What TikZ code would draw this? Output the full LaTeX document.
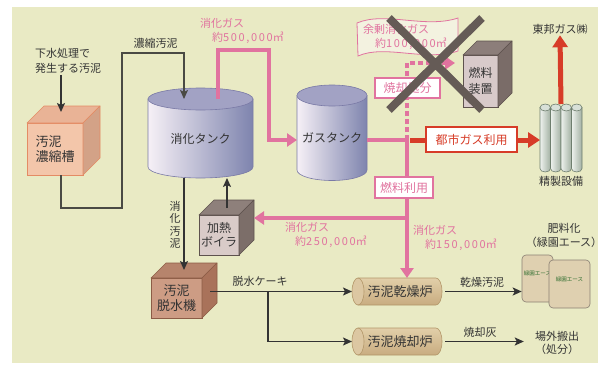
\documentclass[tikz,border=0pt]{standalone}
\usepackage{fontspec}
\setmainfont{Noto Sans CJK JP}
\usetikzlibrary{
  arrows.meta, % for the Stealth and Triangle arrow tips
  positioning, % for labels set next to other nodes
}
\pgfdeclarelayer{background}
\pgfsetlayers{background,main}

\definecolor{paper}{HTML}{E9EAC4}
\definecolor{ink}{HTML}{333333}
\definecolor{pipegrey}{HTML}{4A4A44}
\definecolor{pinkgas}{HTML}{E1739F}
\definecolor{citygas}{HTML}{D73C28}
\definecolor{xmarkgrey}{HTML}{655B56}
% unit colours: front, top, side, edge
\definecolor{thfront}{HTML}{F3C6AA}\definecolor{thtop}{HTML}{E9B396}
\definecolor{thside}{HTML}{D3A287}\definecolor{thedge}{HTML}{E48B64}
\definecolor{fufront}{HTML}{D8CACA}\definecolor{futop}{HTML}{8C7E7A}
\definecolor{fuside}{HTML}{7A6C68}\definecolor{fuedge}{HTML}{5E524E}
\definecolor{bofront}{HTML}{D9CBC8}\definecolor{botop}{HTML}{8E807B}
\definecolor{boside}{HTML}{7C6E69}
\definecolor{dwfront}{HTML}{CD9C84}\definecolor{dwtop}{HTML}{B6846C}
\definecolor{dwside}{HTML}{A9725A}\definecolor{dwedge}{HTML}{8C5C46}
% tanks, drums, columns, bags
\definecolor{tankleft}{HTML}{F6F0F6}\definecolor{tankmid}{HTML}{C9C1D9}
\definecolor{tankright}{HTML}{7E84AE}\definecolor{tanktop}{HTML}{A2A2C4}
\definecolor{tankedge}{HTML}{7A7AA6}
\definecolor{drumtop}{HTML}{E2CFA9}\definecolor{drummid}{HTML}{FAF2E2}
\definecolor{drumbot}{HTML}{C8AC80}\definecolor{drumcap}{HTML}{DCC7A2}
\definecolor{drumedge}{HTML}{B29668}
\definecolor{colleft}{HTML}{EEF2EE}\definecolor{colright}{HTML}{A2B0A2}
\definecolor{coltop}{HTML}{D8E0D8}\definecolor{coledge}{HTML}{6E7E6E}
\definecolor{bagfill}{HTML}{DFD0B0}\definecolor{bagedge}{HTML}{8A8074}
\definecolor{baggreen}{HTML}{2F6E2F}
\definecolor{bannerfill}{HTML}{F3F2E0}

% top and side faces of a unit box: node, depth, top, side, edge
\newcommand{\unitfaces}[5]{%
  \filldraw[fill=#3,draw=#5,line width=0.6pt,line join=round]
    (#1.north west) -- ([xshift=#2,yshift=#2]#1.north west)
    -- ([xshift=#2,yshift=#2]#1.north east) -- (#1.north east) -- cycle;
  \filldraw[fill=#4,draw=#5,line width=0.6pt,line join=round]
    (#1.north east) -- ([xshift=#2,yshift=#2]#1.north east)
    -- ([xshift=#2,yshift=#2]#1.south east) -- (#1.south east) -- cycle;
}
% upright tank around a node: node, x radius, y radius
\newcommand{\tankbody}[3]{%
  \shadedraw[tankshade] (#1.north west) -- ([yshift=#3]#1.south west)
    arc[start angle=180,end angle=360,x radius=#2,y radius=#3]
    -- (#1.north east) -- cycle;
  \filldraw[fill=tanktop,draw=tankedge,line width=0.6pt]
    (#1.north) ellipse[x radius=#2,y radius=#3];
}
% lying drum, the cap sits on the west anchor
\newcommand{\drumbody}[1]{%
  \shadedraw[drumshade] (#1.north west) -- ([xshift=-6pt]#1.north east)
    arc[start angle=90,end angle=-90,x radius=6pt,y radius=13.5pt]
    -- (#1.south west) -- cycle;
  \filldraw[fill=drumcap,draw=drumedge,line width=0.6pt]
    (#1.west) ellipse[x radius=6pt,y radius=13.5pt];
}
\newcommand{\gasvol}[1]{約{\addfontfeature{LetterSpace=15}#1}㎥}

\tikzset{
  lbl/.style={ % plain labels on the flows
    text=ink, % dark grey text
    font=\fontsize{11}{14}\selectfont, % small label text
    inner sep=1pt, % keep labels tight
    align=center, % lines centred on each other
  },
  gaslbl/.style={ % amounts of digestion gas
    lbl, % inherit the label style
    text=pinkgas, % same pink as the gas lines
    align=left, % second line is indented
  },
  unit/.style={ % front face of a plant unit
    rectangle,draw,line width=0.6pt, % thin outline
    inner sep=0pt,outer sep=0pt, % faces meet the anchors exactly
    text=ink,font=\fontsize{12}{15}\selectfont,
    align=center,
  },
  tank/.style={ % round tank, body shaded on the background layer
    rectangle,inner sep=0pt,outer sep=0pt,
    text=ink,font=\fontsize{12}{14}\selectfont,
  },
  tankshade/.style={ % shading of the tank walls
    left color=tankleft,middle color=tankmid,right color=tankright,
    draw=tankedge,line width=0.6pt,
  },
  drum/.style={ % lying furnace drum
    rectangle,inner sep=0pt,outer sep=0pt,
    minimum width=84pt,minimum height=27pt,
    text=ink,font=\fontsize{13}{15}\selectfont,
  },
  drumshade/.style={ % shading of the drum
    top color=drumtop,middle color=drummid,bottom color=drumbot,
    draw=drumedge,line width=0.6pt,
  },
  column/.style={ % one column of the refining plant
    left color=colleft,right color=colright,
    draw=coledge,line width=0.6pt,
  },
  bag/.style={ % fertiliser bag
    rectangle,rounded corners=4pt,
    fill=bagfill,draw=bagedge,line width=0.6pt,
    inner sep=0pt,text depth=10pt, % lettering sits high on the bag
    text=baggreen,font=\fontsize{5.5}{6}\selectfont,
  },
  tag/.style={ % boxed tag sitting on a gas line
    rectangle,fill=white,draw=pinkgas,line width=1.5pt,
    inner sep=0pt,text=pinkgas,font=\fontsize{12}{14}\selectfont,
  },
  flow/.style={ % sludge flows
    -{Stealth[length=9pt,width=8pt,inset=2pt]},
    draw=ink,line width=1.8pt,
  },
  pipe/.style={ % thin line for the thickened sludge
    flow,line width=1.1pt,draw=pipegrey,
  },
  gasline/.style={ % digestion gas
    draw=pinkgas,line width=4.5pt,
  },
  gasflow/.style={ % digestion gas ending in an arrow
    gasline,-{Triangle[length=10pt,width=13pt]},
  },
  cityflow/.style={ % gas sent on as city gas
    draw=citygas,line width=5pt,-{Triangle[length=12pt,width=15pt]},
  },
}

\begin{document}
\begin{tikzpicture}[x=1pt,y=-1pt]
	\useasboundingbox (0,0) rectangle (603,367);
	\begin{pgfonlayer}{background}
		\fill[paper] (12,7) rectangle (598,363);
	\end{pgfonlayer}

	% thickening
	\node[lbl,align=left,font=\fontsize{11}{15}\selectfont] (source) at (68,61) {下水処理で\\発生する汚泥};
	\node[unit,fill=thfront,draw=thedge,align=left,font=\fontsize{13}{15}\selectfont,
		minimum width=56pt,minimum height=52pt] (thicken) at (55,149) {汚泥\\濃縮槽};
	\unitfaces{thicken}{17pt}{thtop}{thside}{thedge}

	% tanks
	\node[tank,minimum width=105pt,minimum height=79pt] (digest) at (200.5,138.5) {消化タンク};
	\node[tank,minimum width=70pt,minimum height=85pt] (gastank) at (332,138) {ガスタンク};
	\begin{pgfonlayer}{background}
		\tankbody{digest}{52.5pt}{11pt}
		\tankbody{gastank}{35pt}{10.5pt}
	\end{pgfonlayer}

	% fuel unit
	\node[unit,fill=fufront,draw=fuedge,font=\fontsize{12}{16}\selectfont,
		minimum width=35pt,minimum height=52pt] (fuel) at (480.5,81) {燃料\\装置};
	\unitfaces{fuel}{14pt}{futop}{fuside}{fuedge}

	% refining columns
	\node[inner sep=0pt,outer sep=0pt,minimum width=42pt,minimum height=68pt] (refine) at (561,138) {};
	\foreach \i in {0,...,3}{
		\shadedraw[column] ([xshift=\i*10.5pt,yshift=-3.5pt]refine.north west)
			-- ([xshift=\i*10.5pt,yshift=3.5pt]refine.south west)
			arc[start angle=180,end angle=360,x radius=5.25pt,y radius=3.5pt]
			-- ([xshift=\i*10.5pt+10.5pt,yshift=-3.5pt]refine.north west) -- cycle;
		\filldraw[fill=coltop,draw=coledge,line width=0.6pt]
			([xshift=\i*10.5pt+5.25pt,yshift=-3.5pt]refine.north west) ellipse[x radius=5.25pt,y radius=3.5pt];
	}
	\node[lbl,below=3pt of refine] (refinename) {精製設備};
	\node[lbl] (toho) at (560,29) {東邦ガス㈱};

	% boiler and dewatering
	\node[unit,fill=bofront,draw=fuedge,font=\fontsize{12}{14}\selectfont,
		minimum width=40pt,minimum height=40pt] (boiler) at (219,235) {加熱\\ボイラ};
	\unitfaces{boiler}{15pt}{botop}{boside}{fuedge}
	\node[unit,fill=dwfront,draw=dwedge,font=\fontsize{13}{15}\selectfont,
		minimum width=51pt,minimum height=40pt] (dewater) at (176.5,298) {汚泥\\脱水機};
	\unitfaces{dewater}{15pt}{dwtop}{dwside}{dwedge}

	% furnaces
	\node[drum] (dryer) at (400,291.5) {汚泥乾燥炉};
	\node[drum] (burner) at (400,341.5) {汚泥焼却炉};
	\begin{pgfonlayer}{background}
		\drumbody{dryer}
		\drumbody{burner}
	\end{pgfonlayer}

	% products
	\node[bag,minimum width=31pt,minimum height=47pt] (bag1) at (537.5,278.5) {緑園エース};
	\node[bag,minimum width=41pt,minimum height=48pt] (bag2) at (569.5,284) {緑園エース};
	\node[lbl] (fertname) at (564,235) {肥料化\\（緑園エース）};
	\node[lbl,font=\fontsize{11}{13}\selectfont] (disposal) at (557,343) {場外搬出\\（処分）};

	\coordinate (jct) at (407,140);
	\coordinate (fork) at (407,218);
	\coordinate (split) at (268,291.5);

	% sludge
	\draw[flow] ([xshift=-7pt]source.south) -- ([xshift=6pt,yshift=11pt]thicken.north);
	\draw[pipe] ([xshift=6pt]thicken.south) -- ++(0,33) -| ++(61,-155) -| ([xshift=-16.5pt]digest.north);
	\draw[flow] ([xshift=-16.5pt]digest.south) -- ([xshift=7.5pt,yshift=8pt]dewater.north);
	\draw[flow] ([xshift=8pt,yshift=7pt]boiler.north) -- ([xshift=26.5pt]digest.south);
	\draw[flow] ([xshift=8pt,yshift=6.5pt]dewater.east) -- ([xshift=-6pt]dryer.west);
	\draw[flow] (split) |- ([xshift=-6pt]burner.west);
	\draw[flow] ([xshift=3pt]dryer.east) -- (dryer.east -| bag1.west);
	\draw[flow,shorten >=10pt] ([xshift=3pt]burner.east) -- (burner.east -| disposal.west);

	% gas
	\draw[gasflow] ([xshift=17.5pt]digest.north) |- ++(51,-49) |- ([yshift=-2pt]gastank.west);
	\draw[gasflow] ([yshift=-2pt]gastank.east) -- (jct) -- ([xshift=7pt]dryer.north);
	\draw[gasflow] (fork) -- ([xshift=15pt,yshift=17pt]boiler.east);
	\draw[gasflow,dash pattern=on 5pt off 3pt,shorten >=8pt] (jct) |- ([yshift=18pt]fuel.west);
	\draw[cityflow] ([xshift=3pt]jct) -- ([yshift=-2pt]refine.west);
	\draw[cityflow] (refine.north) -- (toho.south);

	% labels on the flows
	\node[lbl] (thickened) at (155.5,43) {濃縮汚泥};
	\node[lbl,font=\fontsize{11}{12.5}\selectfont] (digested) at (175,225) {消\\化\\汚\\泥};
	\node[lbl] (cake) at (260,281) {脱水ケーキ};
	\node[lbl] (dried) at (482,282) {乾燥汚泥};
	\node[lbl] (ash) at (480,332) {焼却灰};
	\node[gaslbl,anchor=west] (gas500) at (199,31) {消化ガス\\\hspace*{12pt}\gasvol{500,000}};
	\node[gaslbl,anchor=west] (gas250) at (284,235) {消化ガス\\\hspace*{10pt}\gasvol{250,000}};
	\node[gaslbl,anchor=west] (gas150) at (412,237.5) {消化ガス\\\hspace*{12pt}\gasvol{150,000}};

	% surplus gas banner
	\begin{pgfonlayer}{background}
		\filldraw[fill=bannerfill,draw=pinkgas,line width=0.8pt]
			(357,23) .. controls (385,11) and (425,29) .. (458,18) -- (458,51)
			.. controls (425,62) and (385,44) .. (358,56) -- cycle;
	\end{pgfonlayer}
	\node[gaslbl,anchor=west] (surplus) at (362,36.5) {余剰消化ガス\\\hspace*{12pt}\gasvol{100,000}};

	% tags on the gas lines
	\node[tag,minimum width=65pt,minimum height=20pt] (burnuse) at (407.5,88) {焼却処分};
	\node[tag,minimum width=58pt,minimum height=21pt] (fueluse) at (404,187.5) {燃料利用};
	\node[tag,draw=citygas,text=citygas,minimum width=91pt,minimum height=25pt] (cityuse) at (471.5,139.5) {都市ガス利用};

	% crossed out
	\draw[xmarkgrey,line width=8pt] (389,18) -- (482,110) (389,110) -- (482,18);

\end{tikzpicture}
\end{document}
